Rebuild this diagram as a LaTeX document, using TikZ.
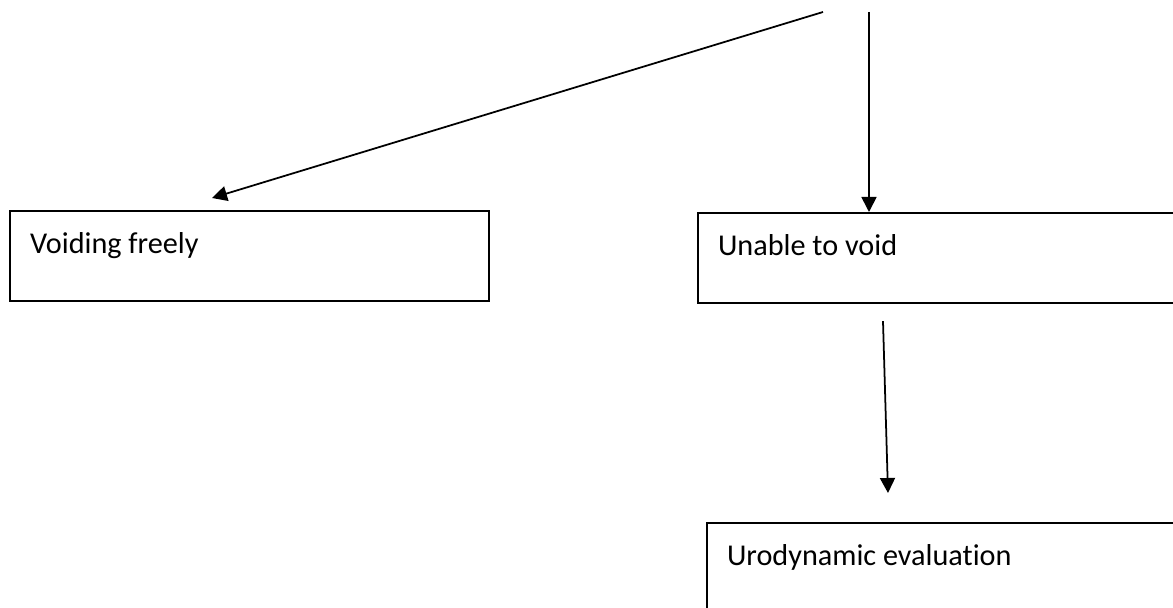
\documentclass[tikz,border=0pt]{standalone}
\usepackage{fontspec}
\setmainfont{Carlito}[RawFeature={-liga}]
\usepackage{tikz}
\usetikzlibrary{calc}
\usetikzlibrary{arrows.meta}
\usetikzlibrary{positioning}
\tikzset{outcome/.style={rectangle,draw=black,line width=1.2pt,anchor=north west,align=flush left,text width=8.78cm,inner xsep=0.4cm,inner ysep=0pt,text height=0.84cm,text depth=0.96cm,font=\fontsize{17.2}{20}\selectfont}}
\tikzset{flow/.style={line width=1pt,-{Triangle[width=0.3cm,length=0.3cm]}}}

\begin{document}
\begin{tikzpicture}

\useasboundingbox (0,0) rectangle (23.46,-12.16);
\clip (0,0) rectangle (23.46,-12.16);

\node[outcome] (voiding) at (0.18,-4.2) {Voiding freely};
\node[outcome] (unable) at (13.94,-4.24) {Unable to void};
\node[outcome] (uro) at (14.12,-10.44) {Urodynamic evaluation};

% free ends at the top
\coordinate (startA) at (16.46,-0.24);
\coordinate (startB) at (17.38,-0.24);
\coordinate (tipA) at (4.24,-3.96);
\coordinate (startC) at ($(unable.south west)+(3.72,-0.34)$);
\coordinate (tipC) at ($(uro.north west)+(3.64,0.58)$);

\draw[flow] (startA) -- (tipA);
\draw[flow] (startB) -- (startB |- unable.north);
\draw[flow] (startC) -- (tipC);

\end{tikzpicture}
\end{document}
